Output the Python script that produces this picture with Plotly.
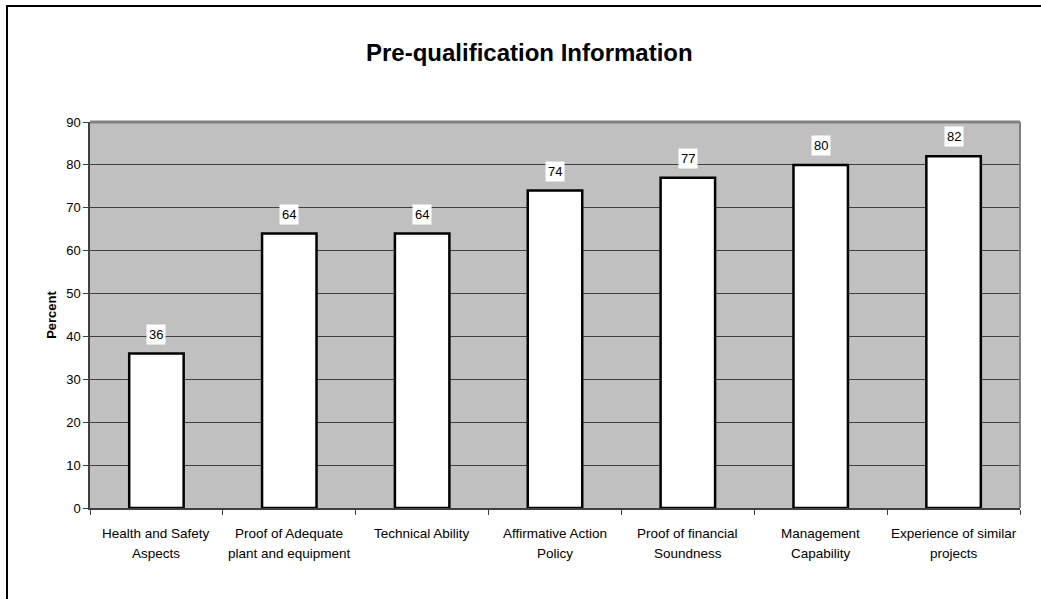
import plotly.graph_objects as go

categories = ["Health and Safety<br>Aspects", "Proof of Adequate<br>plant and equipment",
              "Technical Ability", "Affirmative Action<br>Policy", "Proof of financial<br>Soundness",
              "Management<br>Capability", "Experience of similar<br>projects"]
values = [36, 64, 64, 74, 77, 80, 82]
y_ticks = [0, 10, 20, 30, 40, 50, 60, 70, 80, 90]

W, H = 1041, 599
ml, mr, mt, mb = 90, 21, 122, 91
pw, ph = W - ml - mr, H - mt - mb
FONT = "Liberation Sans, Arial, sans-serif"

def py(ypx):
    return (H - mb - ypx) / ph

fig = go.Figure()
fig.add_trace(go.Bar(
    x=categories, y=values, width=0.41,
    marker=dict(color="white", line=dict(color="black", width=2.5)),
    hoverinfo="skip",
))

for c, v in zip(categories, values):
    fig.add_annotation(x=c, y=v, text=str(v), showarrow=False, yanchor="bottom",
                       yshift=9, bgcolor="white", borderpad=2,
                       font=dict(family=FONT, size=13, color="black"))

# category labels with wider line spacing
for c in categories:
    for i, line in enumerate(c.split("<br>")):
        fig.add_annotation(x=c, y=py(533 + 20 * i), yref="paper", text=line, showarrow=False,
                           xanchor="center", yanchor="middle",
                           font=dict(family=FONT, size=13.5, color="black"))

fig.add_annotation(xref="paper", yref="paper", x=(529 - ml) / pw, y=py(52),
                   text="<b>Pre-qualification Information</b>", showarrow=False,
                   xanchor="center", yanchor="middle",
                   font=dict(family=FONT, size=24, color="black"))

# outer chart border (extends past right and bottom edges)
fig.add_shape(type="rect", xref="paper", yref="paper",
              x0=(7 - ml) / pw, x1=1.5, y0=-1.0, y1=py(6),
              line=dict(color="black", width=2), layer="below")

# top & right edges of plot area (gray)
fig.add_shape(type="line", xref="paper", yref="paper", x0=0, x1=1, y0=1, y1=1,
              line=dict(color="#808080", width=3))
fig.add_shape(type="line", xref="paper", yref="paper", x0=1, x1=1, y0=0, y1=1,
              line=dict(color="#808080", width=2))

fig.update_layout(
    width=W, height=H,
    margin=dict(l=ml, r=mr, t=mt, b=mb),
    paper_bgcolor="white", plot_bgcolor="#C0C0C0",
    showlegend=False, bargap=0.59,
    font=dict(family=FONT, size=13, color="black"),
)
fig.update_xaxes(
    showgrid=False, showline=True, linecolor="#404040", linewidth=1.5,
    ticks="outside", tickson="boundaries", ticklen=5, tickcolor="#404040",
    showticklabels=False,
)
fig.update_yaxes(
    range=[0, 90], tickvals=y_ticks, showgrid=True, gridcolor="#404040", gridwidth=1,
    showline=True, linecolor="#404040", linewidth=1.5, zeroline=False,
    ticks="outside", ticklen=5, tickcolor="#404040",
    tickfont=dict(family=FONT, size=13, color="black"),
    title=dict(text="<b>Percent</b>", font=dict(family=FONT, size=13, color="black"), standoff=7),
)

fig.write_html("out.html")
